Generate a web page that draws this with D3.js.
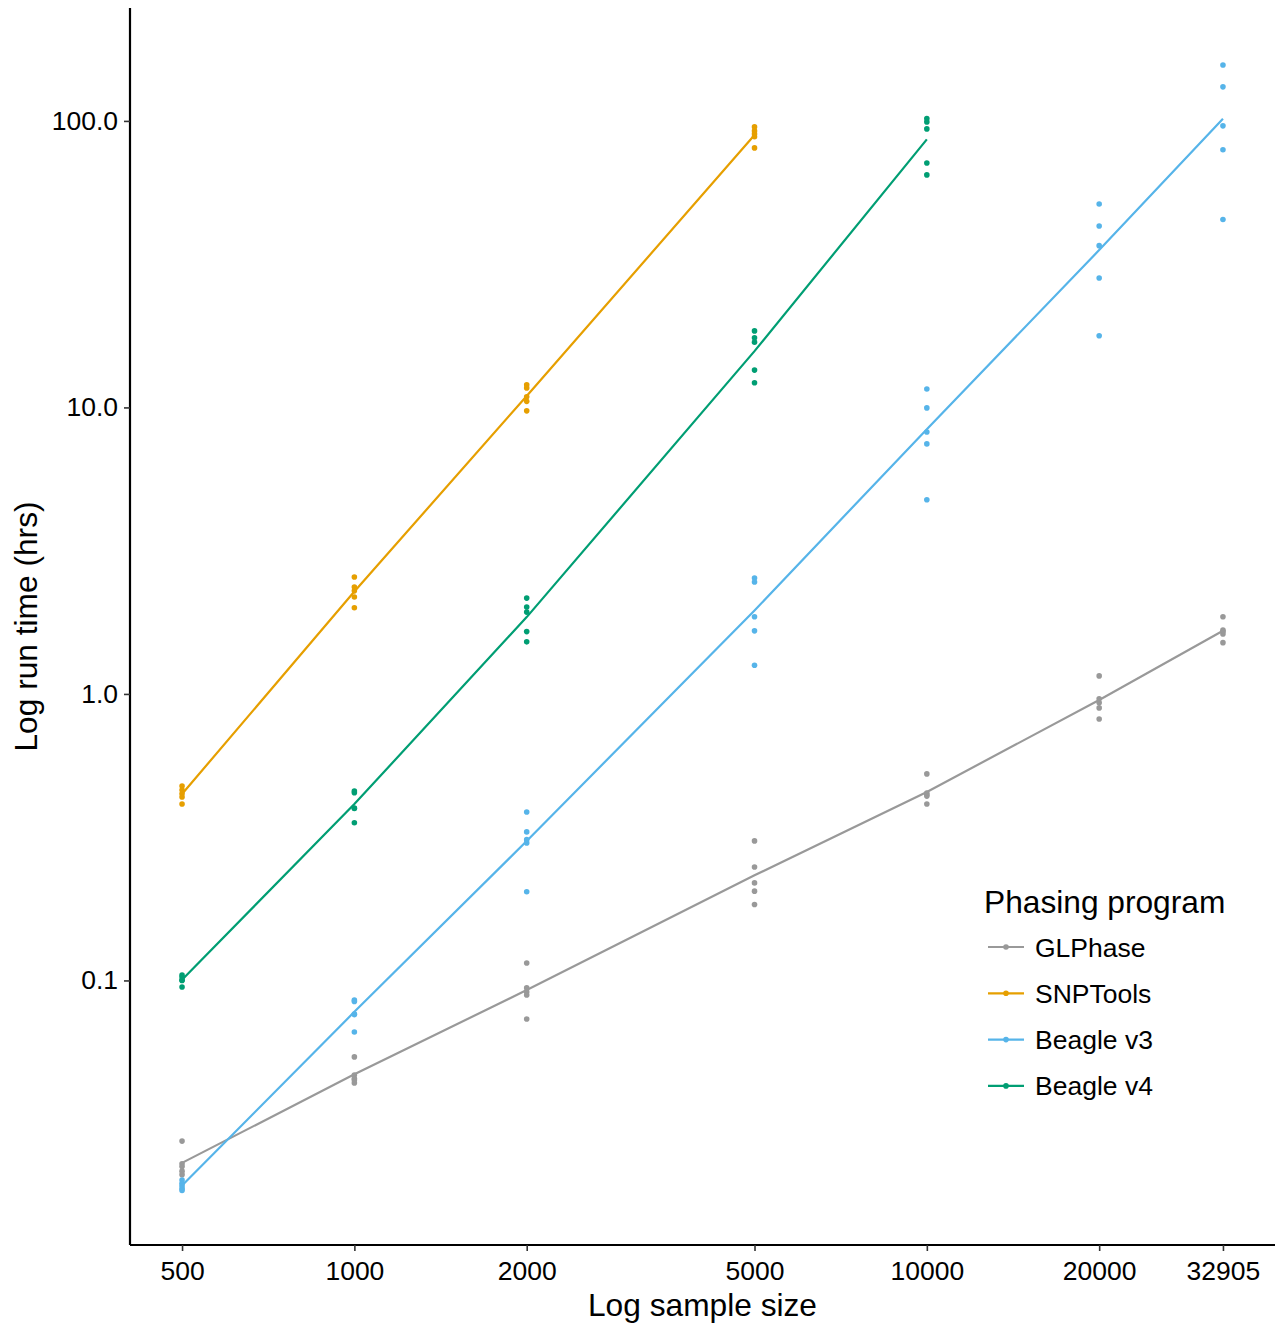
<!DOCTYPE html>
<html>
<head>
<meta charset="utf-8">
<script src="https://cdn.jsdelivr.net/npm/d3@7"></script>
<style>
  body { margin: 0; background: #fff; }
  svg text { font-family: "Liberation Sans", Arial, sans-serif; fill: #000; }
</style>
</head>
<body>
<div id="chart"></div>
<script>
// sample sizes and run times (hours), five runs per size
var sampleSizes = [500, 1000, 2000, 5000, 10000, 20000, 32905];
var xTickLabels = ['500', '1000', '2000', '5000', '10000', '20000', '32905'];
var yTicks = [0.1, 1, 10, 100];

var glphase = [
    [0.0275, 0.0229, 0.0224, 0.0216, 0.0210],
    [0.0541, 0.0468, 0.0455, 0.0449, 0.0439],
    [0.115, 0.0942, 0.0912, 0.0890, 0.0734],
    [0.307, 0.249, 0.219, 0.205, 0.184],
    [0.526, 0.451, 0.445, 0.440, 0.413],
    [1.156, 0.962, 0.931, 0.894, 0.818],
    [1.86, 1.67, 1.65, 1.62, 1.51]
];
var snptools = [
    [0.477, 0.462, 0.448, 0.437, 0.413],
    [2.56, 2.36, 2.29, 2.18, 2.00],
    [12.0, 11.7, 10.9, 10.5, 9.73],
    [95.3, 92.3, 90.1, 88.0, 80.5]
];
var beagle3 = [
    [0.0201, 0.0196, 0.0192, 0.0188, 0.0185],
    [0.0855, 0.0845, 0.0764, 0.0760, 0.0661],
    [0.387, 0.330, 0.310, 0.302, 0.204],
    [2.54, 2.46, 1.86, 1.66, 1.26],
    [11.6, 9.96, 8.21, 7.46, 4.76],
    [51.3, 43.0, 36.7, 28.3, 17.8],
    [156.7, 131.5, 96.1, 79.3, 45.3]
];
var beagle4 = [
    [0.1045, 0.1028, 0.1004, 0.1000, 0.0949],
    [0.458, 0.452, 0.400, 0.398, 0.355],
    [2.16, 2.01, 1.93, 1.65, 1.52],
    [18.5, 17.5, 16.9, 13.5, 12.2],
    [102, 99.2, 93.8, 71.3, 64.8]
];

var programs = ['GLPhase', 'SNPTools', 'Beagle v3', 'Beagle v4'];
var programData = [glphase, snptools, beagle3, beagle4];
var colors = ['#999999', '#E69F00', '#56B4E9', '#009E73'];

var width = 1278, height = 1325;
var margin = {top: 8, right: 3, bottom: 80, left: 130};
var innerW = width - margin.left - margin.right;
var innerH = height - margin.top - margin.bottom;

var svg = d3.select('#chart').append('svg')
    .attr('width', width)
    .attr('height', height);

var g = svg.append('g')
    .attr('transform', 'translate(' + margin.left + ',' + margin.top + ')');

// log domains with a 5% pad like the original
var lx0 = Math.log10(500), lx1 = Math.log10(32905);
var padX = (lx1 - lx0) * 0.05;
var x = d3.scaleLog()
    .domain([Math.pow(10, lx0 - padX), Math.pow(10, lx1 + padX)])
    .range([0, innerW]);

var y = d3.scaleLog()
    .domain([0.01193, 247.8])
    .range([innerH, 0]);

// flatten into points
var points = [];
programData.forEach(function(rows, p) {
    rows.forEach(function(vals, i) {
        vals.forEach(function(v) {
            points.push({program: p, size: sampleSizes[i], time: v});
        });
    });
});

// line goes through the mean run time at each sample size
function means(p) {
    return programData[p].map(function(vals, i) {
        return {size: sampleSizes[i], time: d3.mean(vals)};
    });
}

var line = d3.line()
    .x(function(d) { return x(d.size); })
    .y(function(d) { return y(d.time); });

g.selectAll('circle.pt')
    .data(points)
    .enter()
    .append('circle')
    .attr('class', 'pt')
    .attr('cx', function(d) { return x(d.size); })
    .attr('cy', function(d) { return y(d.time); })
    .attr('r', 2.8)
    .style('fill', function(d) { return colors[d.program]; });

programs.forEach(function(name, p) {
    g.append('path')
        .datum(means(p))
        .attr('d', line)
        .style('fill', 'none')
        .style('stroke', colors[p])
        .style('stroke-width', 2.2);
});

// axes
var xAxis = g.append('g')
    .attr('transform', 'translate(0,' + innerH + ')')
    .call(d3.axisBottom(x)
        .tickValues(sampleSizes)
        .tickFormat(function(d, i) { return xTickLabels[i]; })
        .tickSize(6)
        .tickPadding(8));

var yAxis = g.append('g')
    .call(d3.axisLeft(y)
        .tickValues(yTicks)
        .tickFormat(d3.format('.1f'))
        .tickSize(6)
        .tickPadding(6));

[xAxis, yAxis].forEach(function(a) {
    a.select('.domain').style('stroke', '#000').style('stroke-width', 2.2)
        .attr('d', a === xAxis ? 'M0,0H' + innerW : 'M0,0V' + innerH);
    a.selectAll('.tick line').style('stroke', '#333').style('stroke-width', 1.6);
    a.selectAll('.tick text')
        .style('font-size', '26.5px')
        .style('font-family', '"Liberation Sans", Arial, sans-serif')
        .attr('fill', '#000');
});
xAxis.selectAll('.tick text').attr('dy', '0.8em');

svg.append('text')
    .attr('x', margin.left + innerW / 2)
    .attr('y', 1316)
    .attr('text-anchor', 'middle')
    .style('font-size', '31.7px')
    .text('Log sample size');

svg.append('text')
    .attr('transform', 'translate(37,' + (margin.top + innerH / 2) + ') rotate(-90)')
    .attr('text-anchor', 'middle')
    .style('font-size', '31.7px')
    .text('Log run time (hrs)');

// legend
var legend = svg.append('g').attr('transform', 'translate(984,0)');
legend.append('text')
    .attr('x', 0)
    .attr('y', 913)
    .style('font-size', '31.7px')
    .text('Phasing program');

var items = legend.selectAll('g.item')
    .data(programs)
    .enter()
    .append('g')
    .attr('class', 'item')
    .attr('transform', function(d, i) { return 'translate(0,' + (947 + i * 46.3) + ')'; });

items.append('line')
    .attr('x1', 4).attr('x2', 40)
    .style('stroke', function(d, i) { return colors[i]; })
    .style('stroke-width', 2.2);
items.append('circle')
    .attr('cx', 22).attr('r', 2.8)
    .style('fill', function(d, i) { return colors[i]; });
items.append('text')
    .attr('x', 51)
    .attr('dy', '0.36em')
    .style('font-size', '26.5px')
    .text(function(d) { return d; });
</script>
</body>
</html>
